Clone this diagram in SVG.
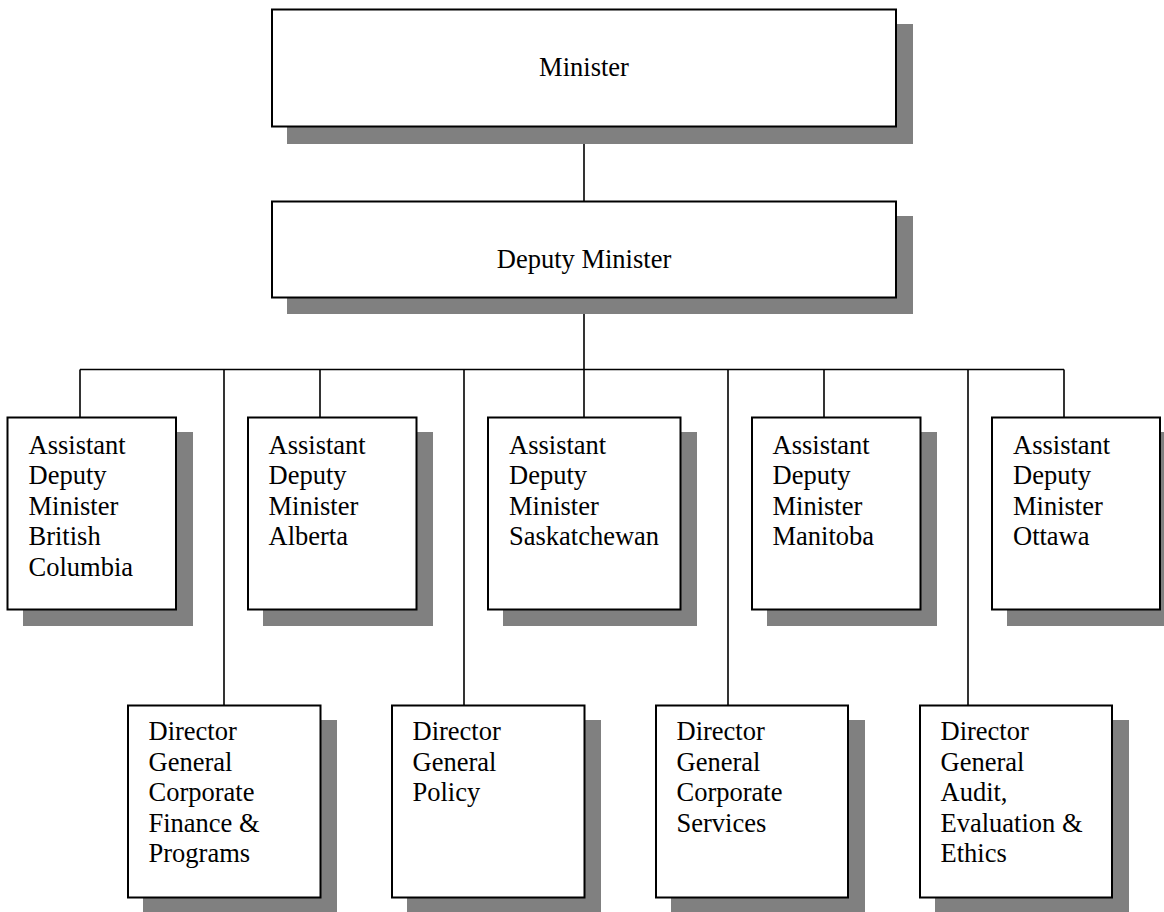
<svg xmlns="http://www.w3.org/2000/svg" width="1164" height="912" viewBox="0 0 1164 912">
<style>
  .shadow { fill: #808080; stroke: none; }
  .box { fill: #ffffff; stroke: #000000; stroke-width: 2; }
  .lbl { font-family: "Liberation Serif", "Times New Roman", serif; font-size: 26.5px; fill: #000000; }
  .mid { text-anchor: middle; }
  .conn line { stroke: #000000; stroke-width: 1.6; fill: none; }
</style>
<rect width="1164" height="912" fill="#ffffff"/>

<g class="conn" id="connectors">
  <line x1="584" y1="126.5" x2="584" y2="201.5"/>
  <line x1="584" y1="297.5" x2="584" y2="417.5"/>
  <line x1="80" y1="369.5" x2="1064" y2="369.5"/>
  <line x1="80" y1="369.5" x2="80" y2="417.5"/>
  <line x1="320" y1="369.5" x2="320" y2="417.5"/>
  <line x1="824" y1="369.5" x2="824" y2="417.5"/>
  <line x1="1064" y1="369.5" x2="1064" y2="417.5"/>
  <line x1="224" y1="369.5" x2="224" y2="705.5"/>
  <line x1="464" y1="369.5" x2="464" y2="705.5"/>
  <line x1="728" y1="369.5" x2="728" y2="705.5"/>
  <line x1="968" y1="369.5" x2="968" y2="705.5"/>
</g>

<g id="minister">
  <rect class="shadow" x="287" y="24" width="626" height="120"/>
  <rect class="box" x="272" y="9.5" width="624" height="117"/>
  <text class="lbl mid" x="584" y="75.5">Minister</text>
</g>

<g id="deputy-minister">
  <rect class="shadow" x="287" y="216" width="626" height="98"/>
  <rect class="box" x="272" y="201.5" width="624" height="96"/>
  <text class="lbl mid" x="584" y="267.5">Deputy Minister</text>
</g>

<g id="adm-bc">
  <rect class="shadow" x="23" y="432" width="170" height="194"/>
  <rect class="box" x="7.5" y="417.5" width="168.5" height="192"/>
  <text class="lbl" x="28.5" y="453.5">Assistant<tspan x="28.5" dy="30.5">Deputy</tspan><tspan x="28.5" dy="30.5">Minister</tspan><tspan x="28.5" dy="30.5">British</tspan><tspan x="28.5" dy="30.5">Columbia</tspan></text>
</g>

<g id="adm-alberta">
  <rect class="shadow" x="263" y="432" width="170" height="194"/>
  <rect class="box" x="248" y="417.5" width="168.5" height="192"/>
  <text class="lbl" x="268.5" y="453.5">Assistant<tspan x="268.5" dy="30.5">Deputy</tspan><tspan x="268.5" dy="30.5">Minister</tspan><tspan x="268.5" dy="30.5">Alberta</tspan></text>
</g>

<g id="adm-saskatchewan">
  <rect class="shadow" x="503" y="432" width="194" height="194"/>
  <rect class="box" x="488" y="417.5" width="192.5" height="192"/>
  <text class="lbl" x="509" y="453.5">Assistant<tspan x="509" dy="30.5">Deputy</tspan><tspan x="509" dy="30.5">Minister</tspan><tspan x="509" dy="30.5">Saskatchewan</tspan></text>
</g>

<g id="adm-manitoba">
  <rect class="shadow" x="767" y="432" width="170" height="194"/>
  <rect class="box" x="752" y="417.5" width="168.5" height="192"/>
  <text class="lbl" x="772.5" y="453.5">Assistant<tspan x="772.5" dy="30.5">Deputy</tspan><tspan x="772.5" dy="30.5">Minister</tspan><tspan x="772.5" dy="30.5">Manitoba</tspan></text>
</g>

<g id="adm-ottawa">
  <rect class="shadow" x="1007" y="432" width="170" height="194"/>
  <rect class="box" x="992" y="417.5" width="168" height="192"/>
  <text class="lbl" x="1013" y="453.5">Assistant<tspan x="1013" dy="30.5">Deputy</tspan><tspan x="1013" dy="30.5">Minister</tspan><tspan x="1013" dy="30.5">Ottawa</tspan></text>
</g>

<g id="dg-finance">
  <rect class="shadow" x="143" y="720" width="194" height="194"/>
  <rect class="box" x="128" y="705.5" width="192.5" height="192"/>
  <text class="lbl" x="148.5" y="740">Director<tspan x="148.5" dy="30.5">General</tspan><tspan x="148.5" dy="30.5">Corporate</tspan><tspan x="148.5" dy="30.5">Finance &amp;</tspan><tspan x="148.5" dy="30.5">Programs</tspan></text>
</g>

<g id="dg-policy">
  <rect class="shadow" x="407" y="720" width="194" height="194"/>
  <rect class="box" x="392" y="705.5" width="192.5" height="192"/>
  <text class="lbl" x="412.5" y="740">Director<tspan x="412.5" dy="30.5">General</tspan><tspan x="412.5" dy="30.5">Policy</tspan></text>
</g>

<g id="dg-corporate-services">
  <rect class="shadow" x="671" y="720" width="194" height="194"/>
  <rect class="box" x="656" y="705.5" width="192" height="192"/>
  <text class="lbl" x="676.5" y="740">Director<tspan x="676.5" dy="30.5">General</tspan><tspan x="676.5" dy="30.5">Corporate</tspan><tspan x="676.5" dy="30.5">Services</tspan></text>
</g>

<g id="dg-audit">
  <rect class="shadow" x="935" y="720" width="194" height="194"/>
  <rect class="box" x="920" y="705.5" width="192" height="192"/>
  <text class="lbl" x="940.5" y="740">Director<tspan x="940.5" dy="30.5">General</tspan><tspan x="940.5" dy="30.5">Audit,</tspan><tspan x="940.5" dy="30.5">Evaluation &amp;</tspan><tspan x="940.5" dy="30.5">Ethics</tspan></text>
</g>
</svg>
